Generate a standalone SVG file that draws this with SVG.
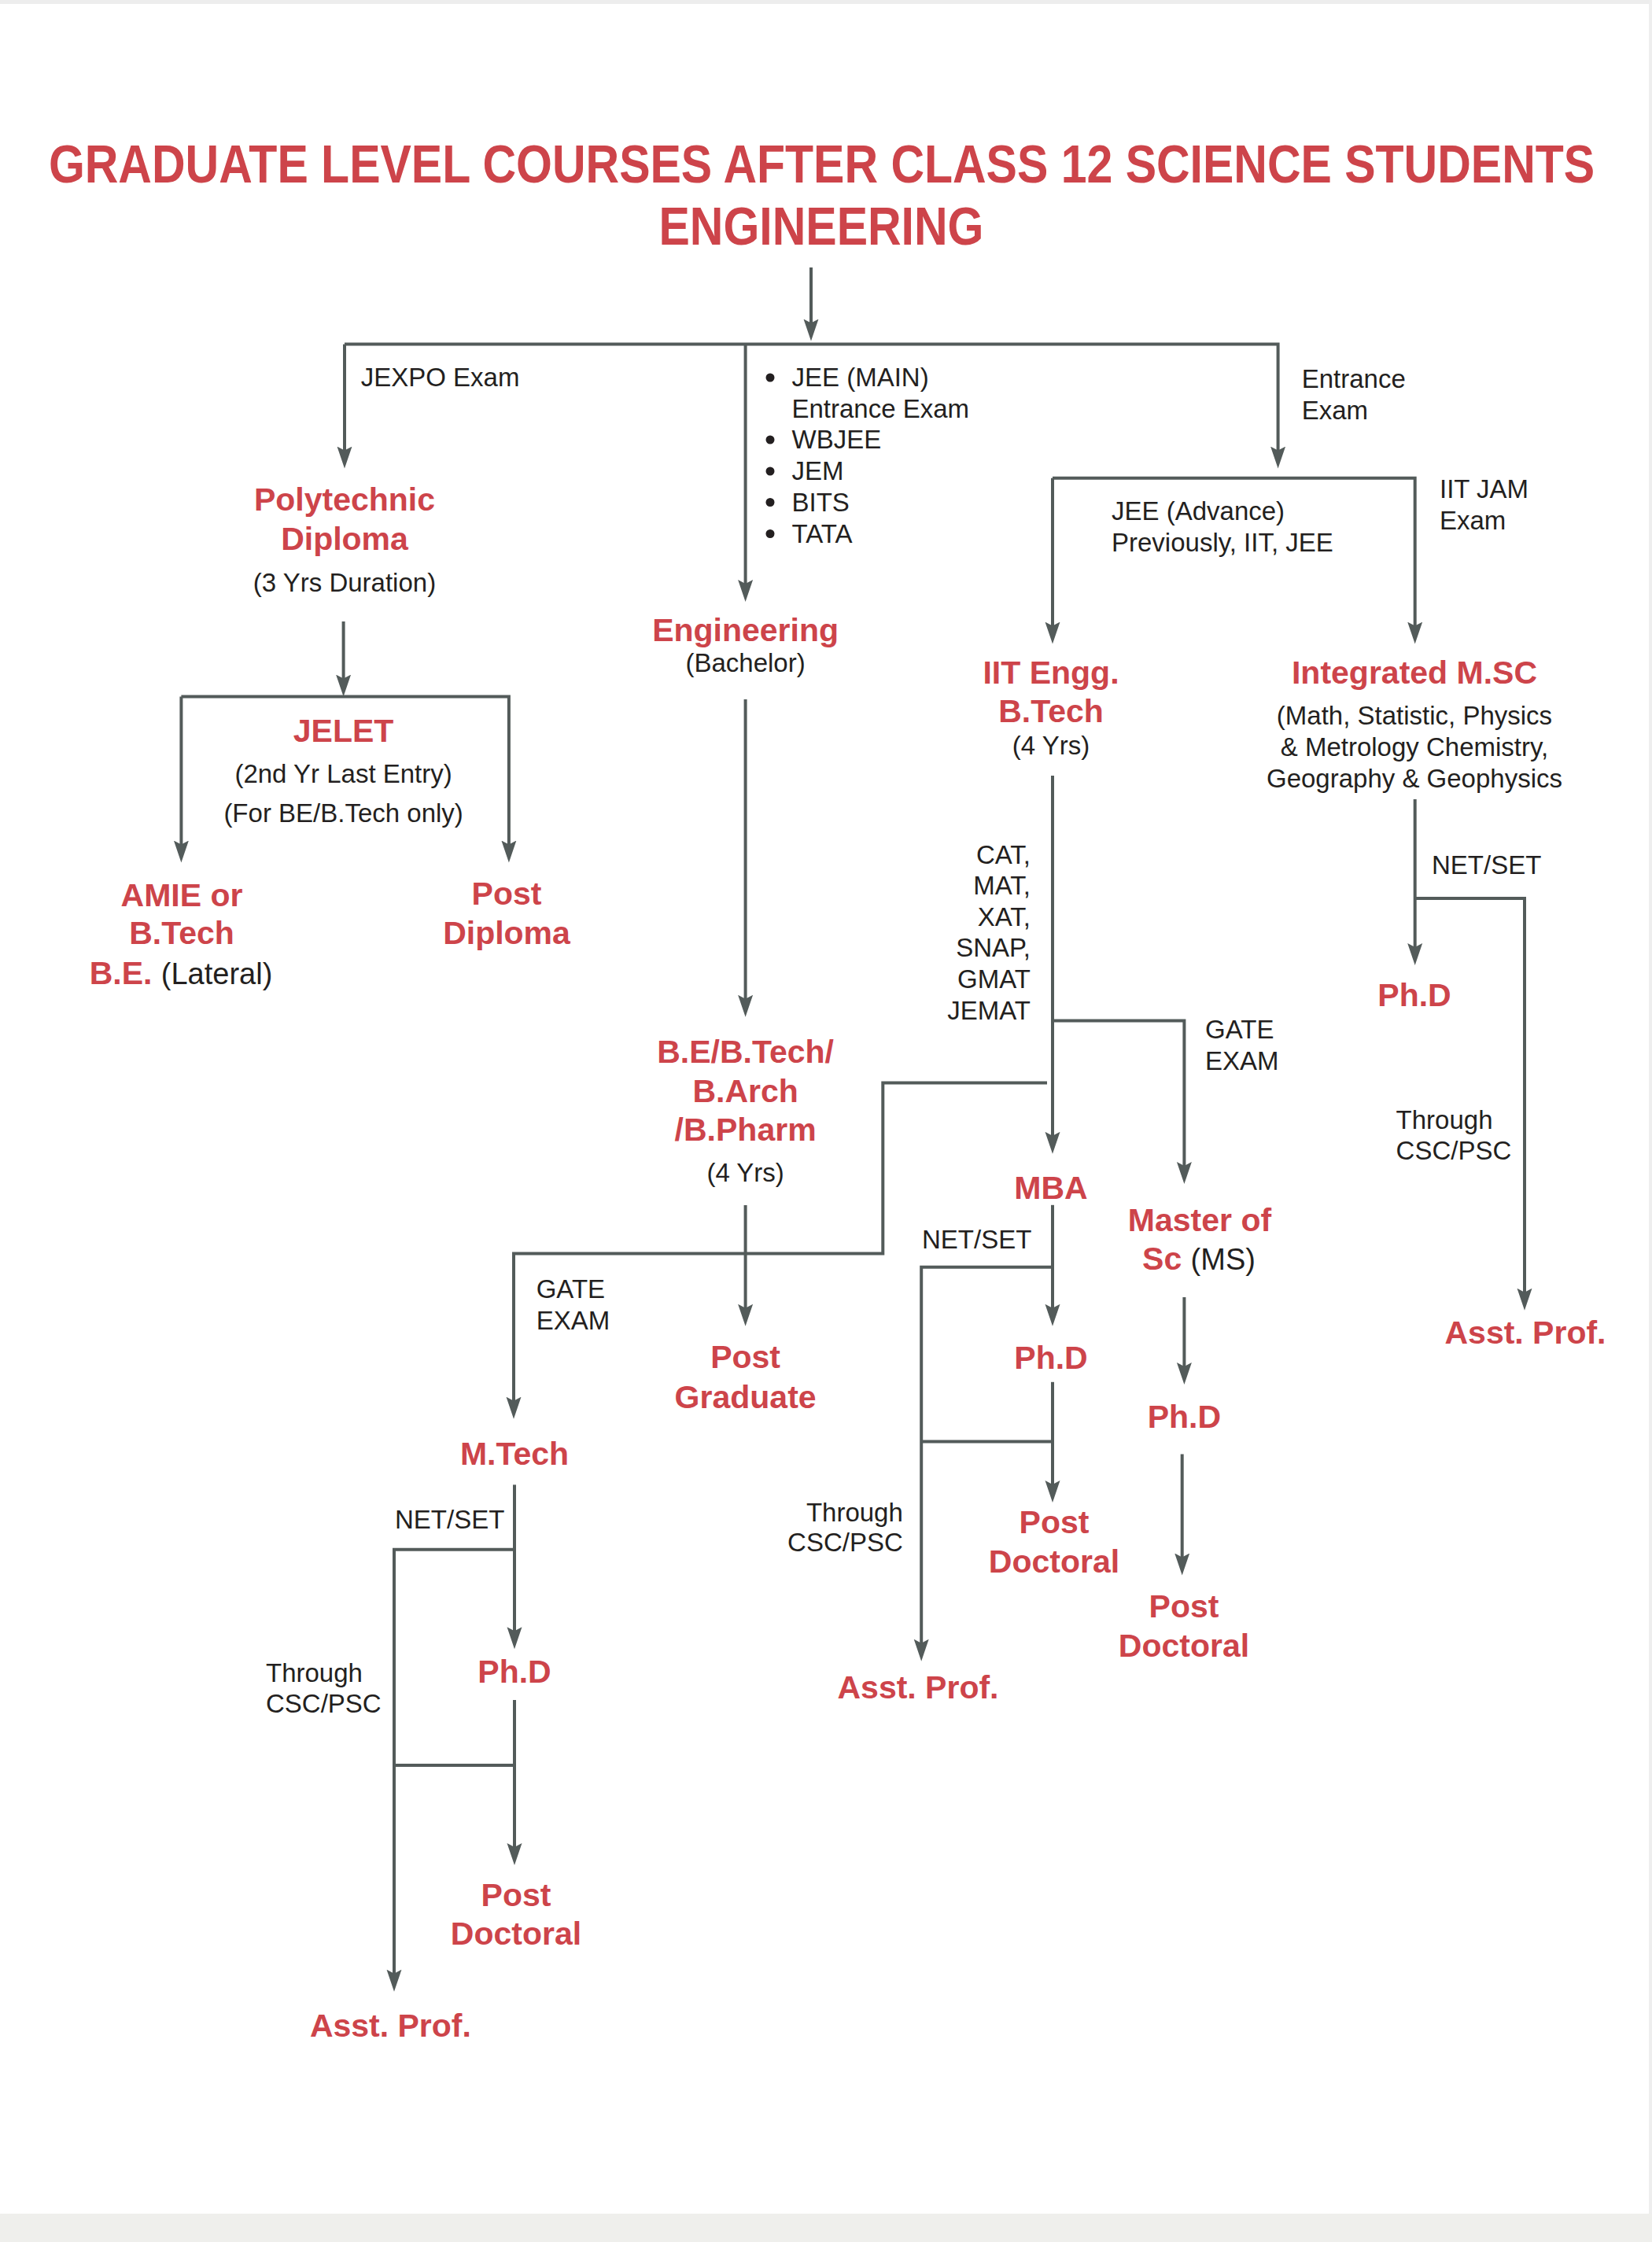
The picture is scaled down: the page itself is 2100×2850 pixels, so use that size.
<svg xmlns="http://www.w3.org/2000/svg" width="2100" height="2850" viewBox="0 0 2100 2850">
<style>
text{font-family:"Liberation Sans",Arial,Helvetica,sans-serif;}
.t{font-size:59px;font-weight:bold;fill:#CD444A;text-anchor:middle;}
.n{font-size:41px;font-weight:bold;fill:#CD444A;text-anchor:middle;}
.l{font-size:33px;fill:#231F20;}
.c{text-anchor:middle;}
.r{text-anchor:end;}
.big{font-size:38px;font-weight:normal;fill:#231F20;}
.ln{fill:none;stroke:#535B5A;stroke-width:4;}
.ar{marker-end:url(#ah);}
</style>
<defs>
<marker id="ah" markerUnits="userSpaceOnUse" markerWidth="28" markerHeight="20" viewBox="0 0 28 20" refX="10" refY="10" orient="auto">
<path d="M0,0.5 L28,10 L0,19.5 L5,10 Z" fill="#535B5A"/>
</marker>
</defs>
<rect x="0" y="0" width="2100" height="2850" fill="#FFFFFF"/>
<rect x="0" y="0" width="2100" height="5" fill="#EDEDED"/>
<rect x="2096" y="0" width="4" height="2814" fill="#EEEEEE"/>
<rect x="0" y="2814" width="2100" height="36" fill="#EFEFEC"/>

<g id="title">
<text class="t" transform="translate(1044.5,232) scale(1,1.16)" x="0" y="0">GRADUATE LEVEL COURSES AFTER CLASS 12 SCIENCE STUDENTS</text>
<text class="t" transform="translate(1044,311) scale(1,1.16)" x="0" y="0">ENGINEERING</text>
</g>

<g id="connectors">
<path class="ln ar" d="M1031,340 V415.6"/>
<path class="ln ar" d="M438,437.6 V577.6"/>
<path class="ln ar" d="M438,437.6 H1624.6 V577.6"/>
<path class="ln ar" d="M947.6,437.6 V747"/>
<path class="ln ar" d="M1338,607.7 V800.6"/>
<path class="ln ar" d="M1338,607.7 H1798.7 V800.6"/>
<path class="ln ar" d="M436.6,790 V867.6"/>
<path class="ln ar" d="M230.4,885.6 V1078.5"/>
<path class="ln ar" d="M230.4,885.6 H646.9 V1078.5"/>
<path class="ln ar" d="M947.6,889 V1274.8"/>
<path class="ln ar" d="M1338,986 V1448.8"/>
<path class="ln ar" d="M1338,1297.4 H1505.4 V1487"/>
<path class="ln ar" d="M1331,1376.4 H1122.3 V1593.4 H653 V1785.7"/>
<path class="ln ar" d="M947.6,1532 V1667.8"/>
<path class="ln ar" d="M654,1887.4 V2078.3"/>
<path class="ln ar" d="M654,1969.7 H501 V2513.7"/>
<path class="ln ar" d="M654,2161 V2353"/>
<path class="ln" d="M501,2244 H654"/>
<path class="ln ar" d="M1798.7,1016 V1209"/>
<path class="ln ar" d="M1798.7,1142 H1938 V1647.7"/>
<path class="ln ar" d="M1338,1531.8 V1667.8"/>
<path class="ln ar" d="M1338,1610.8 H1171.2 V2093.7"/>
<path class="ln ar" d="M1338,1756.8 V1892"/>
<path class="ln" d="M1171.2,1832.5 H1338"/>
<path class="ln ar" d="M1505.4,1649 V1742"/>
<path class="ln ar" d="M1502.7,1848.5 V1984.5"/>
</g>

<g id="edge-labels">
<text class="l" x="458.7" y="490.5">JEXPO Exam</text>
<g id="bullets">
<circle cx="979" cy="480" r="5.5" fill="#231F20"/>
<circle cx="979" cy="559" r="5.5" fill="#231F20"/>
<circle cx="979" cy="599" r="5.5" fill="#231F20"/>
<circle cx="979" cy="638.5" r="5.5" fill="#231F20"/>
<circle cx="979" cy="678.5" r="5.5" fill="#231F20"/>
<text class="l" x="1006.5" y="491">JEE (MAIN)</text>
<text class="l" x="1006.5" y="531">Entrance Exam</text>
<text class="l" x="1006.5" y="570">WBJEE</text>
<text class="l" x="1006.5" y="610">JEM</text>
<text class="l" x="1006.5" y="649.5">BITS</text>
<text class="l" x="1006.5" y="689.5">TATA</text>
</g>
<text class="l" x="1654.7" y="492.5">Entrance</text>
<text class="l" x="1654.7" y="532.7">Exam</text>
<text class="l" x="1413" y="661.3">JEE (Advance)</text>
<text class="l" x="1413" y="701.4">Previously, IIT, JEE</text>
<text class="l" x="1830" y="633">IIT JAM</text>
<text class="l" x="1830" y="672.6">Exam</text>
<text class="l r" x="1310" y="1098">CAT,</text>
<text class="l r" x="1310" y="1137">MAT,</text>
<text class="l r" x="1310" y="1177">XAT,</text>
<text class="l r" x="1310" y="1216">SNAP,</text>
<text class="l r" x="1310" y="1256">GMAT</text>
<text class="l r" x="1310" y="1296">JEMAT</text>
<text class="l" x="1532" y="1319.5">GATE</text>
<text class="l" x="1532" y="1359.7">EXAM</text>
<text class="l" x="1820" y="1111">NET/SET</text>
<text class="l" x="1774.6" y="1434.5">Through</text>
<text class="l" x="1774.6" y="1473.5">CSC/PSC</text>
<text class="l" x="681.7" y="1649.6">GATE</text>
<text class="l" x="681.7" y="1689.8">EXAM</text>
<text class="l" x="502" y="1943">NET/SET</text>
<text class="l" x="338" y="2137.8">Through</text>
<text class="l" x="338" y="2176.7">CSC/PSC</text>
<text class="l" x="1172" y="1587.4">NET/SET</text>
<text class="l r" x="1147.8" y="1933.6">Through</text>
<text class="l r" x="1147.8" y="1972.4">CSC/PSC</text>
</g>

<g id="node-polytechnic">
<text class="n" x="438" y="649">Polytechnic</text>
<text class="n" x="438" y="699">Diploma</text>
<text class="l c" x="438" y="751.6">(3 Yrs Duration)</text>
</g>
<g id="node-jelet">
<text class="n" x="436.6" y="942.5">JELET</text>
<text class="l c" x="436.6" y="994.8">(2nd Yr Last Entry)</text>
<text class="l c" x="436.6" y="1045">(For BE/B.Tech only)</text>
</g>
<g id="node-amie">
<text class="n" x="231" y="1151.5">AMIE or</text>
<text class="n" x="231" y="1200.3">B.Tech</text>
<text class="n" x="230" y="1250.6">B.E. <tspan class="big">(Lateral)</tspan></text>
</g>
<g id="node-post-diploma">
<text class="n" x="644" y="1150">Post</text>
<text class="n" x="644" y="1200">Diploma</text>
</g>
<g id="node-engineering">
<text class="n" x="947.6" y="815.3">Engineering</text>
<text class="l c" x="947.6" y="854">(Bachelor)</text>
</g>
<g id="node-be">
<text class="n" x="947.6" y="1351">B.E/B.Tech/</text>
<text class="n" x="947.6" y="1401">B.Arch</text>
<text class="n" x="947.6" y="1450.4">/B.Pharm</text>
<text class="l c" x="947.6" y="1502">(4 Yrs)</text>
</g>
<g id="node-post-graduate">
<text class="n" x="947.6" y="1739.4">Post</text>
<text class="n" x="947.6" y="1790.3">Graduate</text>
</g>
<g id="node-mtech">
<text class="n" x="654" y="1862">M.Tech</text>
</g>
<g id="node-mtech-phd">
<text class="n" x="654" y="2138.5">Ph.D</text>
</g>
<g id="node-mtech-postdoc">
<text class="n" x="656" y="2422.5">Post</text>
<text class="n" x="656" y="2472">Doctoral</text>
</g>
<g id="node-mtech-asst">
<text class="n" x="496.4" y="2589">Asst. Prof.</text>
</g>
<g id="node-iit">
<text class="n" x="1336" y="868.9">IIT Engg.</text>
<text class="n" x="1336" y="917.7">B.Tech</text>
<text class="l c" x="1336" y="959.3">(4 Yrs)</text>
</g>
<g id="node-integrated">
<text class="n" x="1798" y="868.9">Integrated M.SC</text>
<text class="l c" x="1798" y="921">(Math, Statistic, Physics</text>
<text class="l c" x="1798" y="961">&amp; Metrology Chemistry,</text>
<text class="l c" x="1798" y="1000.8">Geography &amp; Geophysics</text>
</g>
<g id="node-integrated-phd">
<text class="n" x="1798" y="1279">Ph.D</text>
</g>
<g id="node-integrated-asst">
<text class="n" x="1939" y="1708">Asst. Prof.</text>
</g>
<g id="node-mba">
<text class="n" x="1336" y="1523.8">MBA</text>
</g>
<g id="node-mba-phd">
<text class="n" x="1336" y="1740">Ph.D</text>
</g>
<g id="node-mba-postdoc">
<text class="n" x="1340" y="1949">Post</text>
<text class="n" x="1340" y="1999.2">Doctoral</text>
</g>
<g id="node-mba-asst">
<text class="n" x="1167" y="2158.6">Asst. Prof.</text>
</g>
<g id="node-ms">
<text class="n" x="1525" y="1565.3">Master of</text>
<text class="n" x="1524" y="1614.2">Sc <tspan class="big">(MS)</tspan></text>
</g>
<g id="node-ms-phd">
<text class="n" x="1505.4" y="1815">Ph.D</text>
</g>
<g id="node-ms-postdoc">
<text class="n" x="1505" y="2056">Post</text>
<text class="n" x="1505" y="2106.4">Doctoral</text>
</g>
</svg>
